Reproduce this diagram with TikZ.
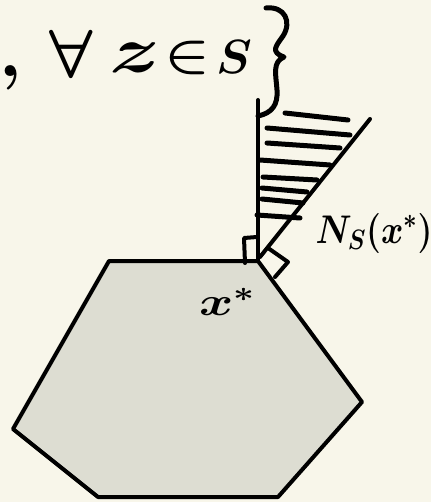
\documentclass[tikz,border=0pt]{standalone}
\usepackage{fix-cm}
\definecolor{bg}{RGB}{248,246,234}
\definecolor{polyfill}{RGB}{221,221,210}
\tikzset{
  ink/.style={line width=4pt, line cap=round, line join=round},
  hatchline/.style={line width=5pt, line cap=round},
  handtxt/.style={inner sep=0pt, text=black},
}
\begin{document}
\begin{tikzpicture}[x=1pt,y=-1pt]
\fill[bg] (0,0) rectangle (431,502);
\useasboundingbox (0,0) rectangle (431,502);
% polygon (feasible set)
\coordinate (xs) at (258,261);
\draw[ink, fill=polyfill] (109,261) -- (xs) -- (362,402) -- (278,497) -- (98,497) -- (13,429) -- cycle;
% normal cone edges
\coordinate (vtop) at (258,100);
\coordinate (dtop) at (370,119);
\draw[ink] (xs) -- (vtop);
\draw[ink] (260,257) -- (dtop);
% hatching
\draw[hatchline] (285,113) -- (348,120);
\draw[hatchline] (267,128) -- (350,135);
\draw[hatchline] (267,143) -- (340,148);
\draw[hatchline] (260,160) -- (330,165);
\draw[hatchline] (263,177) -- (317,180);
\draw[hatchline] (262,188) -- (307,192);
\draw[hatchline] (262,199) -- (303,203);
\draw[hatchline] (257,215) -- (300,218);
% right-angle marks
\draw[ink] (245,263) -- (244,238) -- (257,237);
\draw[ink] (268,248) -- (288,262) -- (275,277);
% brace
\draw[ink, line width=5pt] (266,8) .. controls (285,6) and (292,22) .. (283,36)
  .. controls (276,46) and (270,52) .. (284,57)
  .. controls (272,62) and (276,75) .. (277,90)
  .. controls (278,105) and (272,113) .. (258,116);
% top text
\node[handtxt, font=\fontsize{70}{72}\selectfont\boldmath] (comma) at (11,78) {$,$};
\node[handtxt, font=\fontsize{68}{72}\selectfont\boldmath] (fa) at (71,54) {$\forall$};
\node[handtxt, font=\fontsize{66}{72}\selectfont\boldmath, xscale=1.3] (zz) at (135,58) {$z$};
\node[handtxt, font=\fontsize{50}{56}\selectfont\boldmath, xscale=1.2] (in) at (187,58) {$\in$};
\node[handtxt, font=\fontsize{48}{52}\selectfont\boldmath] (SS) at (234,57) {$S$};
% labels
\node[handtxt, font=\fontsize{40}{46}\selectfont\boldmath, xscale=0.85] (cone) at (374,233) {$N_S(x^*)$};
\node[handtxt, font=\fontsize{40}{44}\selectfont\boldmath, xscale=1.3] (xstar) at (227,302) {$x^*$};
\end{tikzpicture}
\end{document}
